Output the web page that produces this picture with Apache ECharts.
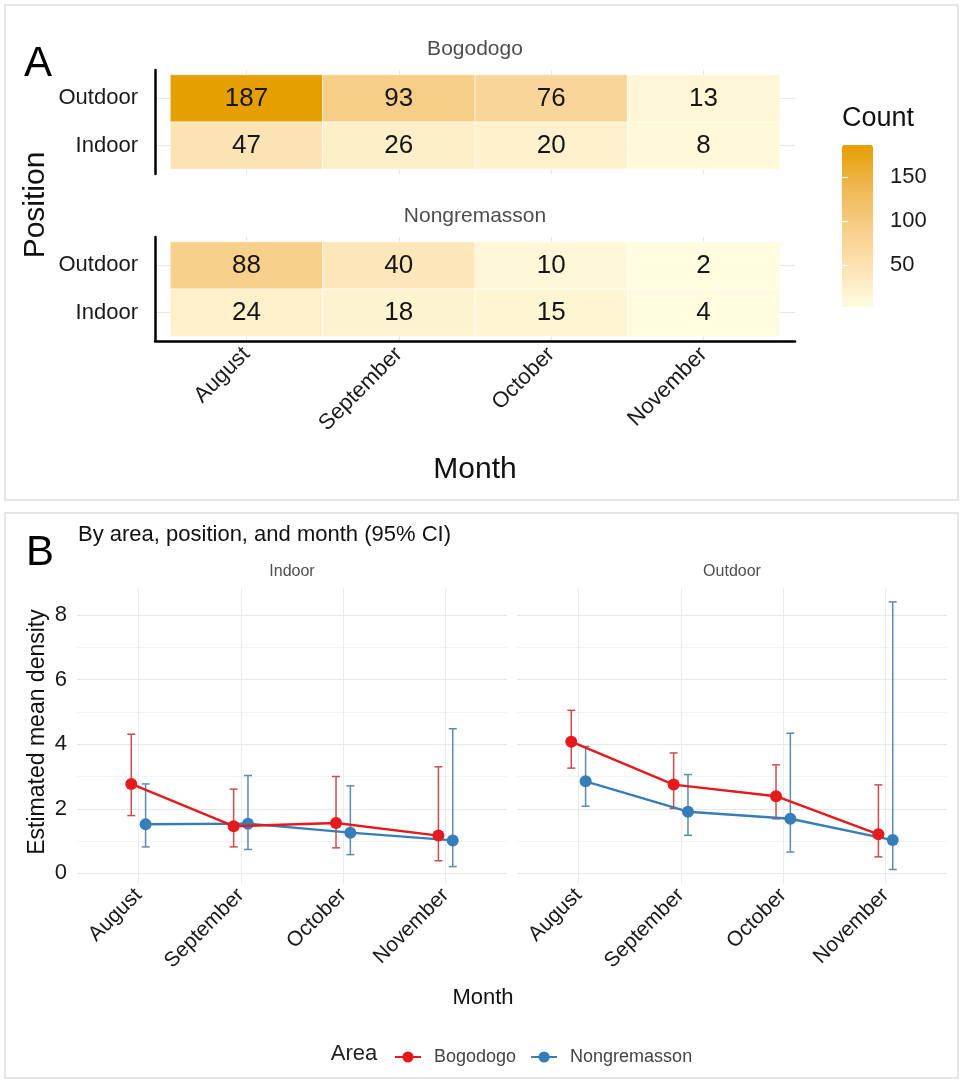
<!DOCTYPE html>
<html><head><meta charset="utf-8">
<script src="https://cdn.jsdelivr.net/npm/echarts@6/dist/echarts.min.js"></script>
<style>html,body{margin:0;padding:0;background:#fff}#c{width:962px;height:1083px}</style>
</head><body><div id="c"></div>
<script>
// ---------- data ----------
const months = ['August', 'September', 'October', 'November'];
const positions = ['Indoor', 'Outdoor'];
const areas = ['Bogodogo', 'Nongremasson'];

// Panel A counts (per month)
const bogodogoOutdoor = [187, 93, 76, 13];
const bogodogoIndoor = [47, 26, 20, 8];
const nongOutdoor = [88, 40, 10, 2];
const nongIndoor = [24, 18, 15, 4];
const countTicks = [50, 100, 150];
const countMin = 2, countMax = 187;

// Panel B estimated mean density with 95% CI
const densityTicks = [0, 2, 4, 6, 8];
const densityMinor = [1, 3, 5, 7];
const indoorBogMean = [2.77, 1.46, 1.56, 1.17];
const indoorBogLow = [1.79, 0.82, 0.79, 0.39];
const indoorBogHigh = [4.31, 2.61, 3.00, 3.30];
const indoorNonMean = [1.52, 1.54, 1.26, 1.02];
const indoorNonLow = [0.82, 0.74, 0.58, 0.21];
const indoorNonHigh = [2.77, 3.03, 2.71, 4.48];
const outdoorBogMean = [4.08, 2.75, 2.39, 1.21];
const outdoorBogLow = [3.26, 2.01, 1.69, 0.51];
const outdoorBogHigh = [5.05, 3.73, 3.36, 2.74];
const outdoorNonMean = [2.85, 1.91, 1.69, 1.03];
const outdoorNonLow = [2.08, 1.18, 0.66, 0.12];
const outdoorNonHigh = [3.93, 3.06, 4.34, 8.41];

// ---------- helpers ----------
const FONT = 'Arial, "Liberation Sans", Helvetica, sans-serif';
const RED = '#E41A1C', BLUE = '#377EB8';
const RED_ERR = '#CD4B4D', BLUE_ERR = '#5B8BB2';
const DODGE = 0.07;
const monthIdx = months.map((m, i) => i);

function cells(outdoor, indoor) {
  const d = [];
  months.forEach((m, i) => { d.push([i, 1, outdoor[i]]); d.push([i, 0, indoor[i]]); });
  return d;
}
function renderCell(params, api) {
  const x = api.value(0), y = api.value(1), v = api.value(2);
  const p0 = api.coord([x - 0.5, y + 0.5]);
  const p1 = api.coord([x + 0.5, y - 0.5]);
  return {
    type: 'rect',
    shape: { x: p0[0], y: p0[1], width: p1[0] - p0[0], height: p1[1] - p0[1] },
    style: { fill: api.visual('color'), stroke: 'rgba(255,255,255,0.55)', lineWidth: 1 },
    textContent: { style: { text: String(v), fontSize: 26, fill: '#161616', fontFamily: FONT } },
    textConfig: { position: 'inside' }
  };
}
function renderErr(params, api) {
  const x = api.value(0), lo = api.value(1), hi = api.value(2);
  const pl = api.coord([x, lo]), ph = api.coord([x, hi]);
  const hw = 4;
  const st = { stroke: api.visual('color'), lineWidth: 1.5 };
  return {
    type: 'group', children: [
      { type: 'line', shape: { x1: pl[0], y1: pl[1], x2: ph[0], y2: ph[1] }, style: st },
      { type: 'line', shape: { x1: pl[0] - hw, y1: pl[1], x2: pl[0] + hw, y2: pl[1] }, style: st },
      { type: 'line', shape: { x1: ph[0] - hw, y1: ph[1], x2: ph[0] + hw, y2: ph[1] }, style: st }
    ]
  };
}
function linePts(mean, off) { return mean.map((v, i) => [i + off, v]); }
function errPts(low, high, off) { return low.map((v, i) => [i + off, v, high[i]]); }

// ---------- axes ----------
function heatX(grid, showLabels) {
  return {
    type: 'value', gridIndex: grid, min: -0.6, max: 3.6,
    axisLine: { show: showLabels, onZero: false, lineStyle: { color: '#000', width: 2.5 } },
    axisTick: { show: false, customValues: monthIdx },
    axisLabel: showLabels ? {
      customValues: monthIdx, formatter: v => months[Math.round(v)], rotate: 45,
      fontSize: 22, color: '#1a1a1a', fontFamily: FONT, margin: 10
    } : { show: false },
    splitLine: { show: true, lineStyle: { color: '#e6e6e6', width: 1 } }
  };
}
function heatY(grid) {
  return {
    type: 'value', gridIndex: grid, min: -0.6, max: 1.6,
    axisLine: { show: true, onZero: false, lineStyle: { color: '#000', width: 2.5 } },
    axisTick: { show: false, customValues: [0, 1] },
    axisLabel: { customValues: [0, 1], formatter: v => positions[Math.round(v)], fontSize: 22, color: '#1a1a1a', fontFamily: FONT, margin: 17 },
    splitLine: { show: true, lineStyle: { color: '#e6e6e6', width: 1 } }
  };
}
function densX(grid) {
  return {
    type: 'value', gridIndex: grid, min: -0.6, max: 3.6,
    axisLine: { show: false },
    axisTick: { show: false, customValues: monthIdx },
    axisLabel: { customValues: monthIdx, formatter: v => months[Math.round(v)], rotate: 45, fontSize: 21, color: '#1a1a1a', fontFamily: FONT, margin: 8 },
    splitLine: { show: true, lineStyle: { color: '#ebebeb', width: 1 } }
  };
}
function densY(grid, labels) {
  return {
    type: 'value', gridIndex: grid, min: -0.33, max: 8.84,
    axisLine: { show: false },
    axisTick: { show: false, customValues: densityTicks },
    axisLabel: labels ? { customValues: densityTicks, fontSize: 22, color: '#1a1a1a', fontFamily: FONT, margin: 10 } : { show: false },
    splitLine: { show: true, lineStyle: { color: '#e8e8e8', width: 1 } }
  };
}
function densYMinor(grid) {
  return {
    type: 'value', gridIndex: grid, min: -0.33, max: 8.84, position: 'left',
    axisLine: { show: false },
    axisTick: { show: false, customValues: densityMinor },
    axisLabel: { show: false },
    splitLine: { show: true, lineStyle: { color: '#f3f3f3', width: 1 } }
  };
}

function txt(text, x, y, size, opts) {
  return Object.assign({
    type: 'text', x: x, y: y, z: 20,
    style: Object.assign({ text: text, fontSize: size, fontFamily: FONT, fill: '#111', align: 'center', verticalAlign: 'middle' }, (opts && opts.style) || {})
  }, opts && opts.rotation !== undefined ? { rotation: opts.rotation } : {});
}

const option = {
  backgroundColor: '#fff',
  animation: false,
  textStyle: { fontFamily: FONT },
  grid: [
    { left: 155, top: 70, width: 640, height: 104 },     // A Bogodogo
    { left: 155, top: 237, width: 640, height: 104 },    // A Nongremasson
    { left: 77, top: 588, width: 430, height: 296 },     // B Indoor
    { left: 517, top: 588, width: 430, height: 296 },    // B Outdoor
    { left: 842, top: 145, width: 31, height: 162 }      // colour bar ticks
  ],
  xAxis: [
    heatX(0, false), heatX(1, true), densX(2), densX(3),
    { type: 'value', gridIndex: 4, min: 0, max: 1, show: false }
  ],
  yAxis: [
    heatY(0), heatY(1),
    densY(2, true), densY(3, false),
    densYMinor(2), densYMinor(3),
    {
      type: 'value', gridIndex: 4, min: countMin, max: countMax, position: 'right', z: 10,
      axisLine: { show: false },
      axisTick: { show: true, inside: true, length: 6, customValues: countTicks, lineStyle: { color: '#fff', width: 1.2 } },
      axisLabel: { customValues: countTicks, fontSize: 22, color: '#1a1a1a', fontFamily: FONT, margin: 17 },
      splitLine: { show: false }
    },
    {
      type: 'value', gridIndex: 4, min: countMin, max: countMax, position: 'left', z: 10,
      axisLine: { show: false },
      axisTick: { show: true, inside: true, length: 6, customValues: countTicks, lineStyle: { color: '#fff', width: 1.2 } },
      axisLabel: { show: false },
      splitLine: { show: false }
    }
  ],
  visualMap: {
    type: 'continuous', min: countMin, max: countMax, dimension: 2, seriesIndex: [0, 1],
    inRange: { color: ['#FFFCE0', '#FCE2B2', '#F6CD86', '#EEB650', '#E69F00'] },
    left: 842, top: 145, itemWidth: 31, itemHeight: 162, padding: 0,
    calculable: false, orient: 'vertical'
  },
  legend: {
    data: areas, left: 389, top: 1043, itemGap: 14, itemWidth: 26, itemHeight: 14,
    textStyle: { fontSize: 18, color: '#444', fontFamily: FONT, padding: [0, 0, 0, 8] }
  },
  series: [
    { type: 'custom', xAxisIndex: 0, yAxisIndex: 0, renderItem: renderCell, encode: { x: 0, y: 1 }, data: cells(bogodogoOutdoor, bogodogoIndoor) },
    { type: 'custom', xAxisIndex: 1, yAxisIndex: 1, renderItem: renderCell, encode: { x: 0, y: 1 }, data: cells(nongOutdoor, nongIndoor) },

    { name: 'Bogodogo', type: 'line', xAxisIndex: 2, yAxisIndex: 2, data: linePts(indoorBogMean, -DODGE), color: RED, symbol: 'circle', symbolSize: 12, lineStyle: { width: 2.4 }, z: 5 },
    { name: 'Nongremasson', type: 'line', xAxisIndex: 2, yAxisIndex: 2, data: linePts(indoorNonMean, DODGE), color: BLUE, symbol: 'circle', symbolSize: 12, lineStyle: { width: 2.4 }, z: 4 },
    { name: 'Bogodogo', type: 'line', xAxisIndex: 3, yAxisIndex: 3, data: linePts(outdoorBogMean, -DODGE), color: RED, symbol: 'circle', symbolSize: 12, lineStyle: { width: 2.4 }, z: 5 },
    { name: 'Nongremasson', type: 'line', xAxisIndex: 3, yAxisIndex: 3, data: linePts(outdoorNonMean, DODGE), color: BLUE, symbol: 'circle', symbolSize: 12, lineStyle: { width: 2.4 }, z: 4 },

    { name: 'Bogodogo', type: 'custom', xAxisIndex: 2, yAxisIndex: 2, renderItem: renderErr, encode: { x: 0, y: [1, 2] }, data: errPts(indoorBogLow, indoorBogHigh, -DODGE), itemStyle: { color: RED_ERR }, z: 3 },
    { name: 'Nongremasson', type: 'custom', xAxisIndex: 2, yAxisIndex: 2, renderItem: renderErr, encode: { x: 0, y: [1, 2] }, data: errPts(indoorNonLow, indoorNonHigh, DODGE), itemStyle: { color: BLUE_ERR }, z: 3 },
    { name: 'Bogodogo', type: 'custom', xAxisIndex: 3, yAxisIndex: 3, renderItem: renderErr, encode: { x: 0, y: [1, 2] }, data: errPts(outdoorBogLow, outdoorBogHigh, -DODGE), itemStyle: { color: RED_ERR }, z: 3 },
    { name: 'Nongremasson', type: 'custom', xAxisIndex: 3, yAxisIndex: 3, renderItem: renderErr, encode: { x: 0, y: [1, 2] }, data: errPts(outdoorNonLow, outdoorNonHigh, DODGE), itemStyle: { color: BLUE_ERR }, z: 3 }
  ],
  graphic: [
    { type: 'rect', z: 0, shape: { x: 5, y: 5, width: 953, height: 495 }, style: { fill: 'none', stroke: '#dedede', lineWidth: 1.5 } },
    { type: 'rect', z: 0, shape: { x: 5, y: 513, width: 953, height: 565 }, style: { fill: 'none', stroke: '#dedede', lineWidth: 1.5 } },
    txt('A', 38, 64, 42, { style: { fill: '#000' } }),
    txt('Bogodogo', 475, 49, 21, { style: { fill: '#4d4d4d' } }),
    txt('Nongremasson', 475, 216, 21, { style: { fill: '#4d4d4d' } }),
    txt('Position', 36, 205, 30, { rotation: Math.PI / 2 }),
    txt('Month', 475, 470, 30),
    txt('Count', 842, 119, 27, { style: { align: 'left' } }),
    txt('B', 40, 553, 42, { style: { fill: '#000' } }),
    txt('By area, position, and month (95% CI)', 78, 535, 22, { style: { align: 'left' } }),
    txt('Indoor', 292, 572, 16, { style: { fill: '#4d4d4d' } }),
    txt('Outdoor', 732, 572, 16, { style: { fill: '#4d4d4d' } }),
    txt('Estimated mean density', 38, 732, 23, { rotation: Math.PI / 2 }),
    txt('Month', 483, 998, 22),
    txt('Area', 354, 1054, 22, { style: { fill: '#222' } })
  ]
};

const chart = echarts.init(document.getElementById('c'), null, { renderer: 'canvas' });
chart.setOption(option);
</script>
</body></html>
